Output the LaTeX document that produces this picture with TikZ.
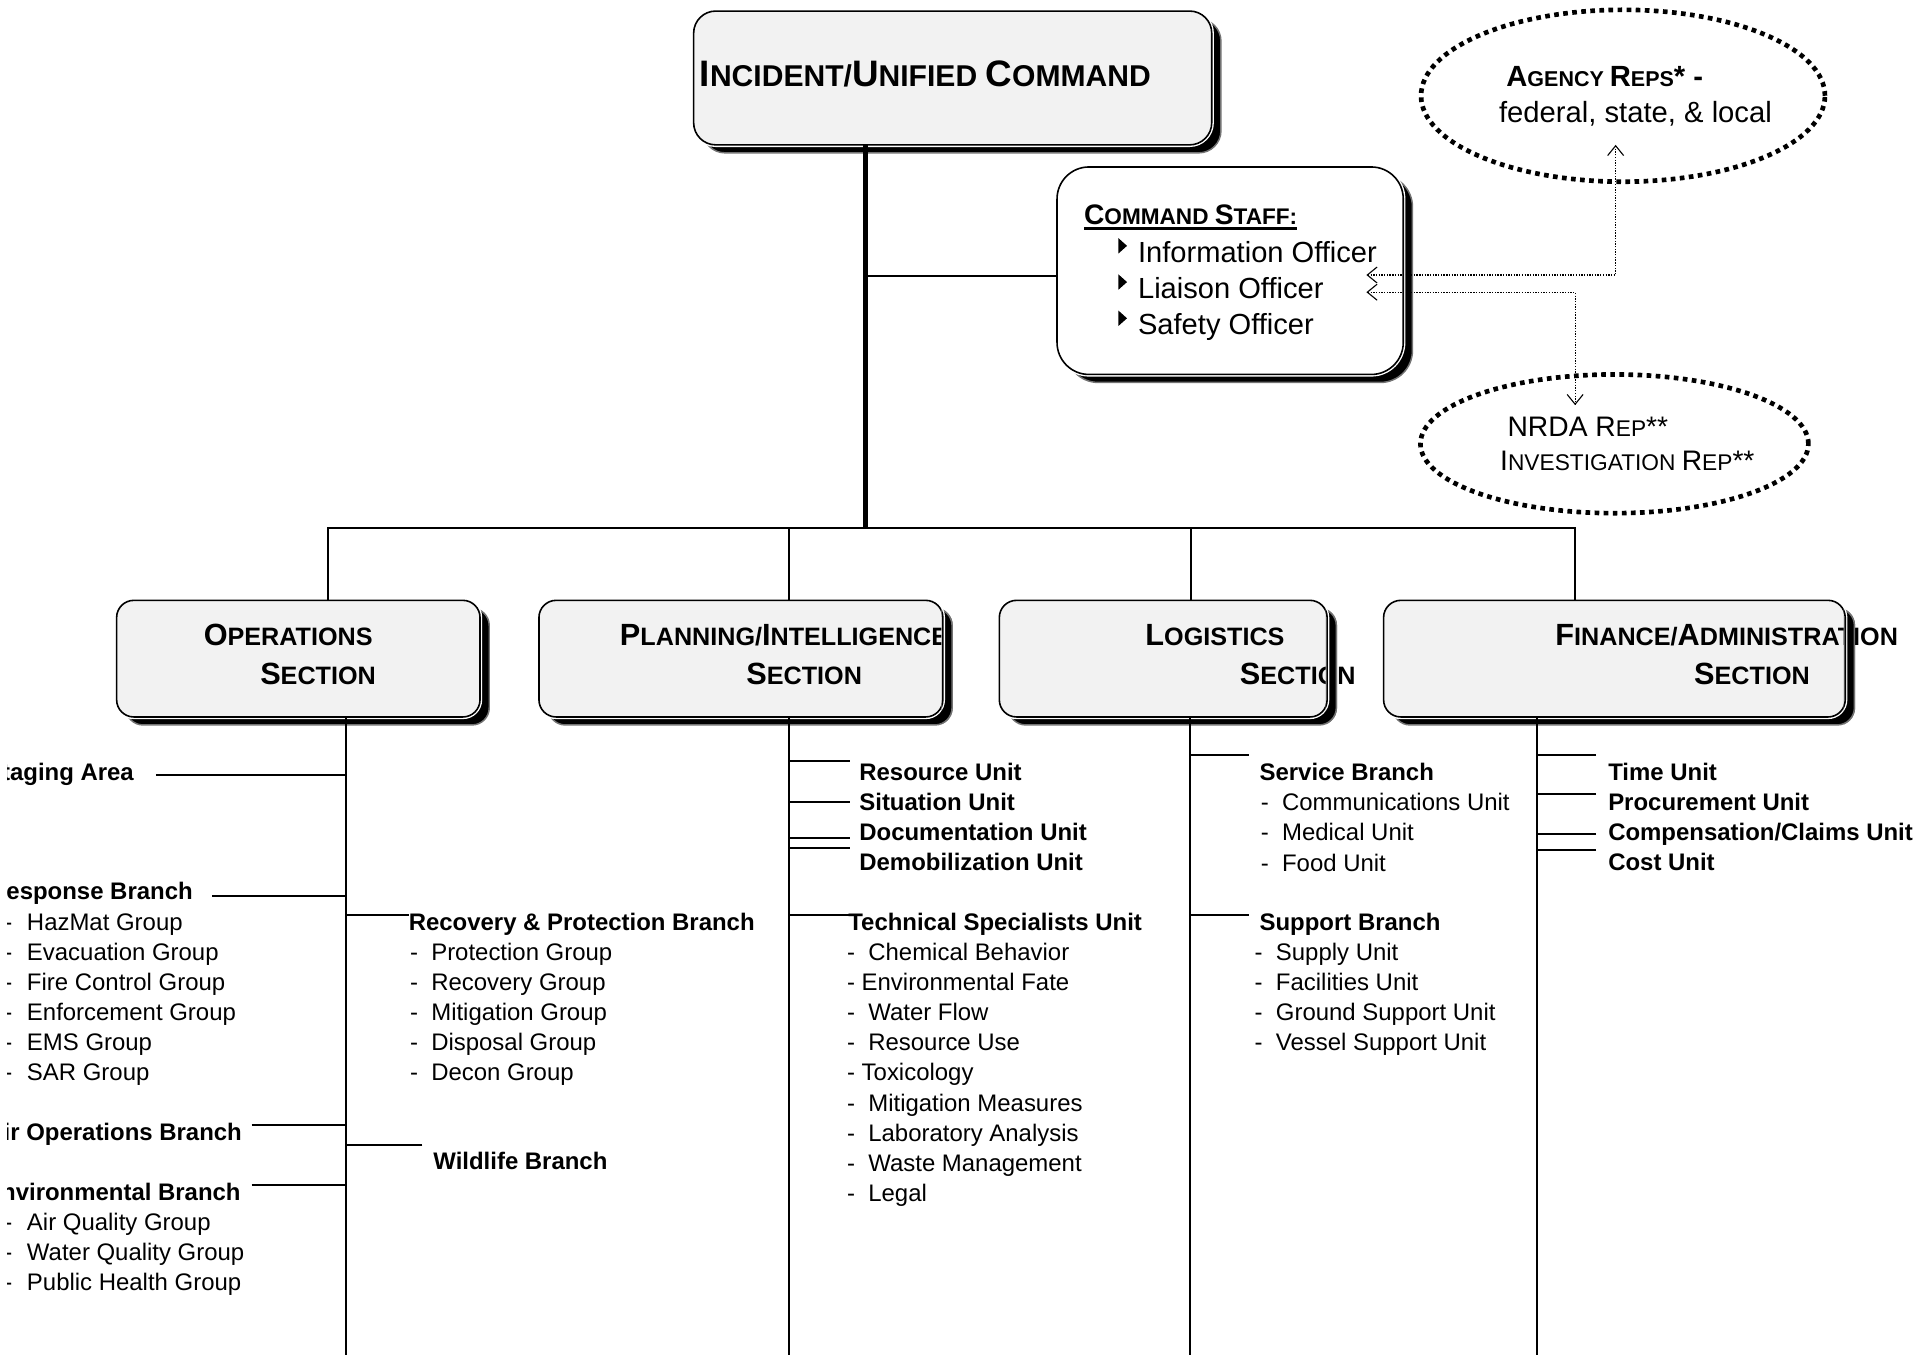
\documentclass[tikz,border=0pt]{standalone}
\usepackage{fontspec}
\setmainfont{Liberation Sans}
\usetikzlibrary{shapes.geometric,shadows,arrows.meta}
\definecolor{boxgray}{RGB}{242,242,242}
\newcommand\fsz[1]{\fontsize{#1}{#1}\selectfont}
\def\lcsz{25pt}\def\scsz{20.5pt}
% large initial capital / reduced capitals
\newcommand\capL[1]{{\fontsize{\lcsz}{\lcsz}\selectfont #1}}
\newcommand\capS[1]{{\fontsize{\scsz}{\scsz}\selectfont #1}}
\tikzset{
  panel/.style={draw, line width=1.3pt, rounded corners=14pt, fill=boxgray, inner sep=0pt, outer sep=0pt,
    drop shadow={shadow xshift=7.5pt, shadow yshift=-6.5pt, fill=black, draw=black!55, line width=1.2pt, opacity=1},
    preaction={draw=white, line width=3.5pt}},
  sectbox/.style={panel, minimum height=95pt},
  oval/.style={ellipse, draw, line width=3.8pt, dash pattern=on 3.8pt off 3.6pt, inner sep=0pt, outer sep=0pt},
  link/.style={line width=1.6pt},
  trunk/.style={line width=4.5pt},
  conn/.style={line width=0.9pt, dash pattern=on 1.1pt off 1.1pt,
    {Straight Barb[length=8pt,width=13pt]}-{Straight Barb[length=8pt,width=13pt]}},
  txt/.style={inner sep=0pt, outer sep=0pt, text height=14pt, text depth=0pt, font=\fsz{19.5pt}},
  btxt/.style={txt, font=\fsz{19.5pt}\bfseries},
  title/.style={inner sep=0pt, outer sep=0pt, text height=17.9pt, text depth=0pt, anchor=west,
    font={\def\lcsz{25pt}\def\scsz{20.5pt}\fsz{20.5pt}\bfseries}},
}
\begin{document}
\begin{tikzpicture}[x=1pt,y=-1pt]
\useasboundingbox (0,0) rectangle (1568,1103);
\clip (0,0) rectangle (1568,1103);

% ---------- boxes ----------
\node[panel, rounded corners=18pt, minimum width=422pt, minimum height=109pt] (ic) at (776,63.5) {};
\node[panel, fill=white, rounded corners=26pt, minimum width=282pt, minimum height=169pt] (cs) at (1002,220.5) {};
\node[sectbox, minimum width=296pt] (ops)  at (243,536.5) {};
\node[sectbox, minimum width=329pt] (plan) at (603.5,536.5) {};
\node[sectbox, minimum width=267pt] (logi) at (947.5,536.5) {};
\node[sectbox, minimum width=376pt] (fin)  at (1315,536.5) {};
\node[oval, minimum width=329pt, minimum height=140pt] (agency) at (1322,78) {};
\node[oval, minimum width=316pt, minimum height=113pt] (nrda) at (1315,361.5) {};

% ---------- main tree ----------
\coordinate (hub) at (705,430);
\coordinate (floor) at (0,1110);
\draw[trunk] (ic.south -| hub) -- (hub);
\draw[link] ([yshift=-4.5pt]cs.west) coordinate (t) -- (t -| hub);

\coordinate (dO) at ([xshift=24pt]ops.north);
\coordinate (dP) at ([xshift=39.5pt]plan.north);
\coordinate (dL) at ([xshift=22.5pt]logi.north);
\coordinate (dF) at ([xshift=-32pt]fin.north);
\draw[link] (dO) |- (hub) -| (dF);
\draw[link] (dP) -- (dP |- hub);
\draw[link] (dL) -- (dL |- hub);

\coordinate (sO) at ([xshift=39pt]ops.south);
\coordinate (sP) at ([xshift=39.5pt]plan.south);
\coordinate (sL) at ([xshift=21.5pt]logi.south);
\coordinate (sF) at ([xshift=-63pt]fin.south);
\foreach \s in {sO,sP,sL,sF} \draw[link] (\s) -- (\s |- floor);

% ---------- titles ----------
\node[title, font={\def\lcsz{30pt}\def\scsz{24.5pt}\fsz{24.5pt}\bfseries}, text height=21.5pt] (icT) at (570,60)
  {\capL{I}\capS{NCIDENT/}\capL{U}\capS{NIFIED} \capL{C}\capS{OMMAND}};
\node[title] (opsT1)  at (166,517)  {\capL{O}\capS{PERATIONS}};
\node[title] (opsT2)  at (212,549)  {\capL{S}\capS{ECTION}};
\node[title] (planT1) at (505,517)  {\capL{P}\capS{LANNING/}\capL{I}\capS{NTELLIGENCE}};
\node[title] (planT2) at (608,549)  {\capL{S}\capS{ECTION}};
\node[title] (logiT1) at (933,517)  {\capL{L}\capS{OGISTICS}};
\node[title] (logiT2) at (1010,549) {\capL{S}\capS{ECTION}};
\node[title] (finT1)  at (1267,517) {\capL{F}\capS{INANCE/}\capL{A}\capS{DMINISTRATION}};
\node[title] (finT2)  at (1380,549) {\capL{S}\capS{ECTION}};

% ---------- command staff ----------
\node[title, font={\def\lcsz{23pt}\def\scsz{18.4pt}\fsz{18.4pt}\bfseries}, text height=16.5pt] (csT) at (883,175)
  {\capL{C}\capS{OMMAND} \capL{S}\capS{TAFF:}};
\draw[line width=2pt] ([yshift=-3pt]csT.south west) -- ([yshift=-3pt]csT.south east);
\foreach \t [count=\i] in {Information Officer, Liaison Officer, Safety Officer} {
  \node[txt, anchor=west, font=\fsz{23.7pt}, text height=17pt] (csI\i) at (927,175.5+29.5*\i) {\t};
  \fill ([shift={(-16pt,11pt)}]csI\i.west) -- ++(0pt,-12.5pt) -- ++(7pt,6.25pt) -- cycle;
}

% ---------- representatives ----------
\node[title, font={\def\lcsz{23.8pt}\def\scsz{17.5pt}\fsz{17.5pt}\bfseries}, text height=17pt] (ag1) at (1227,62)
  {\capL{A}\capS{GENCY} \capL{R}\capS{EPS}\capL{* -}};
\node[txt, anchor=west, font=\fsz{23.8pt}, text height=17pt] (ag2) at (1221,91) {federal, state, \& local};
\node[title, font={\def\lcsz{23pt}\def\scsz{18.5pt}\fsz{18.5pt}}, text height=16.5pt] (nr1) at (1228,347)
  {\capL{NRDA R}\capS{EP}\capL{**}};
\node[title, font={\def\lcsz{23pt}\def\scsz{18.5pt}\fsz{18.5pt}}, text height=16.5pt] (nr2) at (1222,375)
  {\capL{I}\capS{NVESTIGATION} \capL{R}\capS{EP}\capL{**}};

\coordinate (agIn) at ([shift={(-6pt,-40pt)}]agency.center);
\coordinate (nrIn) at ([shift={(-32pt,31.5pt)}]nrda.center);
\coordinate (csA) at ([shift={(-30pt,-3.5pt)}]cs.east);
\coordinate (csB) at ([shift={(-30pt,-17.5pt)}]cs.east);
\draw[conn] (csA) -| (agIn);
\draw[conn] (csB) -| (nrIn);

% ---------- operations ----------
\begin{scope}
  \clip (6,580) rectangle (300,1103);
  \node[btxt, anchor=east] (stg)  at (109,629) {Staging Area};
  \node[btxt, anchor=east] (resp) at (157,726) {Response Branch};
  \node[btxt, anchor=east] (airb) at (197,922) {Air Operations Branch};
  \node[btxt, anchor=east] (envb) at (196,971) {Environmental Branch};
  \foreach \t [count=\i] in {HazMat Group, Evacuation Group, Fire Control Group, Enforcement Group, EMS Group, SAR Group}
    \node[txt, anchor=west] (respG\i) at (3.5,726.5+24.5*\i) {-\hspace{12pt}\t};
  \foreach \t [count=\i] in {Air Quality Group, Water Quality Group, Public Health Group}
    \node[txt, anchor=west] (envG\i) at (3.5,971+24.5*\i) {-\hspace{12pt}\t};
\end{scope}
\node[btxt, anchor=west] (recb) at (333,751) {Recovery \& Protection Branch};
\node[btxt, anchor=west] (wild) at (353,946) {Wildlife Branch};
\foreach \t [count=\i] in {Protection Group, Recovery Group, Mitigation Group, Disposal Group, Decon Group}
  \node[txt, anchor=west] (recG\i) at (334,751+24.5*\i) {-\ \ \t};
\draw[link] ([shift={(18pt,-2pt)}]stg.east)  coordinate (t) -- (t -| sO);
\draw[link] ([shift={(16pt,-4pt)}]resp.east) coordinate (t) -- (t -| sO);
\draw[link] ([shift={(8pt,6pt)}]airb.east)   coordinate (t) -- (t -| sO);
\draw[link] ([shift={(9pt,6pt)}]envb.east)   coordinate (t) -- (t -| sO);
\draw[link] ([shift={(0pt,6pt)}]recb.west)   coordinate (t) -- (t -| sO);
\draw[link] ([shift={(-9pt,13pt)}]wild.west) coordinate (t) -- (t -| sO);

% ---------- planning / intelligence ----------
\node[btxt, anchor=west] (res)   at (700,629) {Resource Unit};
\node[btxt, anchor=west] (sit)   at (700,653) {Situation Unit};
\node[btxt, anchor=west] (doc)   at (700,677.5) {Documentation Unit};
\node[btxt, anchor=west] (demob) at (700,702) {Demobilization Unit};
\node[btxt, anchor=west] (tech)  at (691,751) {Technical Specialists Unit};
\foreach \t [count=\i] in {{\ \ Chemical Behavior}, {\ Environmental Fate}, {\ \ Water Flow}, {\ \ Resource Use},
    {\ Toxicology}, {\ \ Mitigation Measures}, {\ \ Laboratory Analysis}, {\ \ Waste Management}, {\ \ Legal}}
  \node[txt, anchor=west] (techS\i) at (690,751+24.5*\i) {-\t};
\draw[link] ([shift={(-8pt,9pt)}]res.west)    coordinate (t) -- (t -| sP);
\draw[link] ([shift={(-8pt,0pt)}]sit.west)    coordinate (t) -- (t -| sP);
\draw[link] ([shift={(-8pt,-5pt)}]doc.west)   coordinate (t) -- (t -| sP);
\draw[link] ([shift={(-8pt,11pt)}]demob.west) coordinate (t) -- (t -| sP);
\draw[link] ([shift={(1pt,6pt)}]tech.west)    coordinate (t) -- (t -| sP);

% ---------- logistics ----------
\node[btxt, anchor=west] (svc) at (1026,629) {Service Branch};
\node[btxt, anchor=west] (sup) at (1026,751) {Support Branch};
\foreach \t [count=\i] in {Communications Unit, Medical Unit, Food Unit}
  \node[txt, anchor=west] (svcU\i) at (1027,629+24.5*\i) {-\ \ \t};
\foreach \t [count=\i] in {Supply Unit, Facilities Unit, Ground Support Unit, Vessel Support Unit}
  \node[txt, anchor=west] (supU\i) at (1022,751+24.5*\i) {-\ \ \t};
\draw[link] ([shift={(-9pt,14pt)}]svc.west) coordinate (t) -- (t -| sL);
\draw[link] ([shift={(-9pt,6pt)}]sup.west)  coordinate (t) -- (t -| sL);

% ---------- finance / administration ----------
\node[btxt, anchor=west] (time) at (1310,629) {Time Unit};
\node[btxt, anchor=west] (proc) at (1310,653) {Procurement Unit};
\node[btxt, anchor=west] (comp) at (1310,677.5) {Compensation/Claims Unit};
\node[btxt, anchor=west] (cost) at (1310,702) {Cost Unit};
\draw[link] ([shift={(-10pt,14pt)}]time.west) coordinate (t) -- (t -| sF);
\draw[link] ([shift={(-10pt,6pt)}]proc.west)  coordinate (t) -- (t -| sF);
\draw[link] ([shift={(-10pt,-2pt)}]comp.west) coordinate (t) -- (t -| sF);
\draw[link] ([shift={(-10pt,10pt)}]cost.west) coordinate (t) -- (t -| sF);

% ---------- right edges of the section boxes lie over their titles ----------
\begin{scope}
  \clip ([xshift=-1pt,yshift=4pt]plan.north east) rectangle ([xshift=14pt,yshift=-14pt]plan.south east);
  \node[sectbox, minimum width=329pt] at (plan.center) {};
\end{scope}
\begin{scope}
  \clip ([xshift=-1pt,yshift=4pt]logi.north east) rectangle ([xshift=14pt,yshift=-14pt]logi.south east);
  \node[sectbox, minimum width=267pt] at (logi.center) {};
\end{scope}
\begin{scope}
  \clip ([xshift=-1pt,yshift=4pt]fin.north east) rectangle ([xshift=14pt,yshift=-14pt]fin.south east);
  \node[sectbox, minimum width=376pt] at (fin.center) {};
\end{scope}
\end{tikzpicture}
\end{document}
